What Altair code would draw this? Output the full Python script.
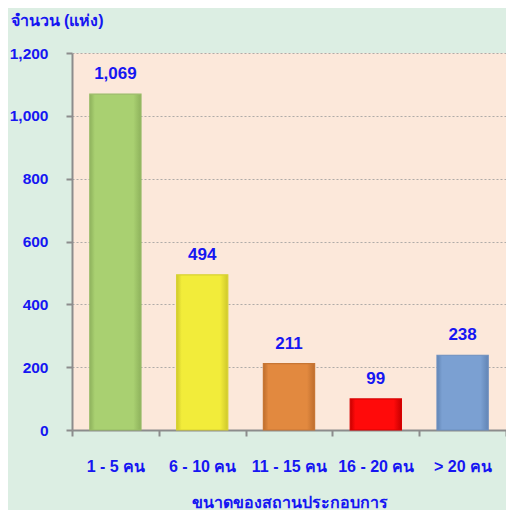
import altair as alt
import pandas as pd

categories = ["1 - 5 คน", "6 - 10 คน", "11 - 15 คน", "16 - 20 คน", "> 20 คน"]
values = [1069, 494, 211, 99, 238]
colors = ["#A9D071", "#F2EC3A", "#E2893F", "#FF0A0A", "#7BA0D2"]
edges = ["#8EB25C", "#CFC82C", "#BE6E2E", "#C80000", "#6285B5"]
strokes = ["#98BB66", "#D8D233", "#C77634", "#D80000", "#6C8FBF"]
y_ticks = [0, 200, 400, 600, 800, 1000, 1200]

df = pd.DataFrame({"cat": categories, "val": values})

FONT = "Liberation Sans"
THAI = "Liberation Sans, Noto Sans, sans-serif"
BLUE = "#1616F2"

x = alt.X("cat:N", sort=categories,
          scale=alt.Scale(paddingInner=0, paddingOuter=0),
          axis=alt.Axis(title="ขนาดของสถานประกอบการ", labelAngle=0, tickBand="extent",
                        domainColor="#8C8C8C", domainWidth=2, tickColor="#8C8C8C", tickWidth=2,
                        tickSize=6, labelPadding=22, labelFont=THAI, labelFontSize=16,
                        labelFontWeight="bold", labelColor=BLUE, titleFont=THAI,
                        titleFontSize=16, titleFontWeight="bold", titleColor=BLUE,
                        titleY=72, titleBaseline="middle", grid=False))
y = alt.Y("val:Q", scale=alt.Scale(domain=[0, 1200], nice=False),
          axis=alt.Axis(title="จำนวน (แห่ง)", values=y_ticks, format=",d",
                        domainColor="#8C8C8C", domainWidth=2, tickColor="#8C8C8C", tickWidth=2,
                        tickSize=6, labelPadding=18, labelFont=FONT, labelFontSize=15.5,
                        labelFontWeight="bold", labelColor=BLUE, titleFont=THAI,
                        titleFontSize=16, titleFontWeight="bold", titleColor=BLUE,
                        titleAngle=0, titleX=-62, titleY=-33, titleAlign="left",
                        titleBaseline="middle", grid=True, gridColor="#9A9A9A",
                        gridDash=[2, 2], gridWidth=0.8))

layers = []
for cat, col, edge, stk in zip(categories, colors, edges, strokes):
    grad = alt.Gradient(gradient="linear", x1=0, x2=1, y1=0, y2=0, stops=[
        alt.GradientStop(offset=0, color=edge),
        alt.GradientStop(offset=0.1, color=col),
        alt.GradientStop(offset=0.85, color=col),
        alt.GradientStop(offset=1, color=edge),
    ])
    layers.append(
        alt.Chart(df).transform_filter(alt.datum.cat == cat)
        .mark_bar(color=grad, stroke=stk, strokeWidth=1.2, width=alt.RelativeBandSize(0.59))
        .encode(x=x, y=y)
    )

labels = alt.Chart(df).mark_text(dy=-20, baseline="middle", font=FONT, fontSize=17,
                                 fontWeight="bold", color=BLUE).encode(
    x=alt.X("cat:N", sort=categories), y="val:Q", text=alt.Text("val:Q", format=",d"))

chart = alt.layer(*layers, labels).properties(
    width=434, height=377,
    autosize=alt.AutoSizeParams(type="none"),
    padding={"left": 64, "top": 45, "right": 0, "bottom": 80},
    background="#DCEEE3",
).configure_view(fill="#FCE8DA", stroke=None)

chart.save("out.html", embed_options={"renderer": "svg", "actions": False})
